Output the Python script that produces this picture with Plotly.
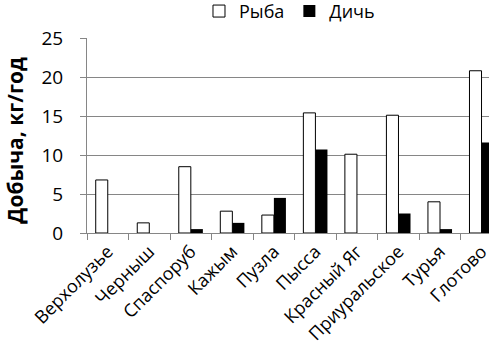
import plotly.graph_objects as go

categories = ["Верхолузье", "Черныш", "Спаспоруб", "Кажым", "Пузла", "Пысса",
              "Красный Яг", "Приуральское", "Турья", "Глотово"]
fish = [6.8, 1.3, 8.5, 2.8, 2.3, 15.4, 10.1, 15.1, 4.0, 20.8]
game = [0, 0, 0.5, 1.3, 4.5, 10.7, 0, 2.5, 0.5, 11.6]
y_ticks = [0, 5, 10, 15, 20, 25]

FONT = "Open Sans"
GRID = "#868686"

fig = go.Figure()
fig.add_trace(go.Bar(x=categories, y=fish, name="Рыба",
                     marker=dict(color="white", line=dict(color="black", width=1))))
fig.add_trace(go.Bar(x=categories, y=game, name="Дичь",
                     marker=dict(color="black", line=dict(color="black", width=0))))

fig.update_layout(
    width=489, height=355,
    margin=dict(l=87, r=0, t=38, b=122, autoexpand=False),
    plot_bgcolor="white", paper_bgcolor="white",
    barmode="group", bargap=0.42, bargroupgap=0,
    font=dict(family=FONT, color="black", size=16),
    showlegend=True,
    legend=dict(orientation="h", x=0.592, y=0.968, xref="container", yref="container",
                xanchor="center", yanchor="middle", font=dict(size=18),
                itemwidth=30, traceorder="normal"),
    annotations=[dict(text="<b>Добыча, кг/год</b>", textangle=-90,
                      xref="paper", yref="paper", x=-0.18, y=0.477,
                      xanchor="center", yanchor="middle", showarrow=False,
                      font=dict(size=21))],
)
fig.update_xaxes(
    type="category", range=[-0.5, 9.18], automargin=False,
    tickson="boundaries", ticks="outside", ticklen=6, tickcolor=GRID,
    showline=True, linecolor=GRID, linewidth=1,
    tickangle=-45, tickfont=dict(size=18), showgrid=False,
)
fig.update_yaxes(
    range=[0, 25], tickvals=y_ticks, ticks="outside", ticklen=6, tickcolor=GRID,
    showline=True, linecolor=GRID, linewidth=1, automargin=False,
    showgrid=True, gridcolor=GRID, gridwidth=1, zeroline=False,
    tickfont=dict(size=19), ticklabelstandoff=13,
)

fig.write_html("out.html", config={"displayModeBar": False},
               post_script="document.body.style.margin='0';document.body.style.overflow='hidden';")
